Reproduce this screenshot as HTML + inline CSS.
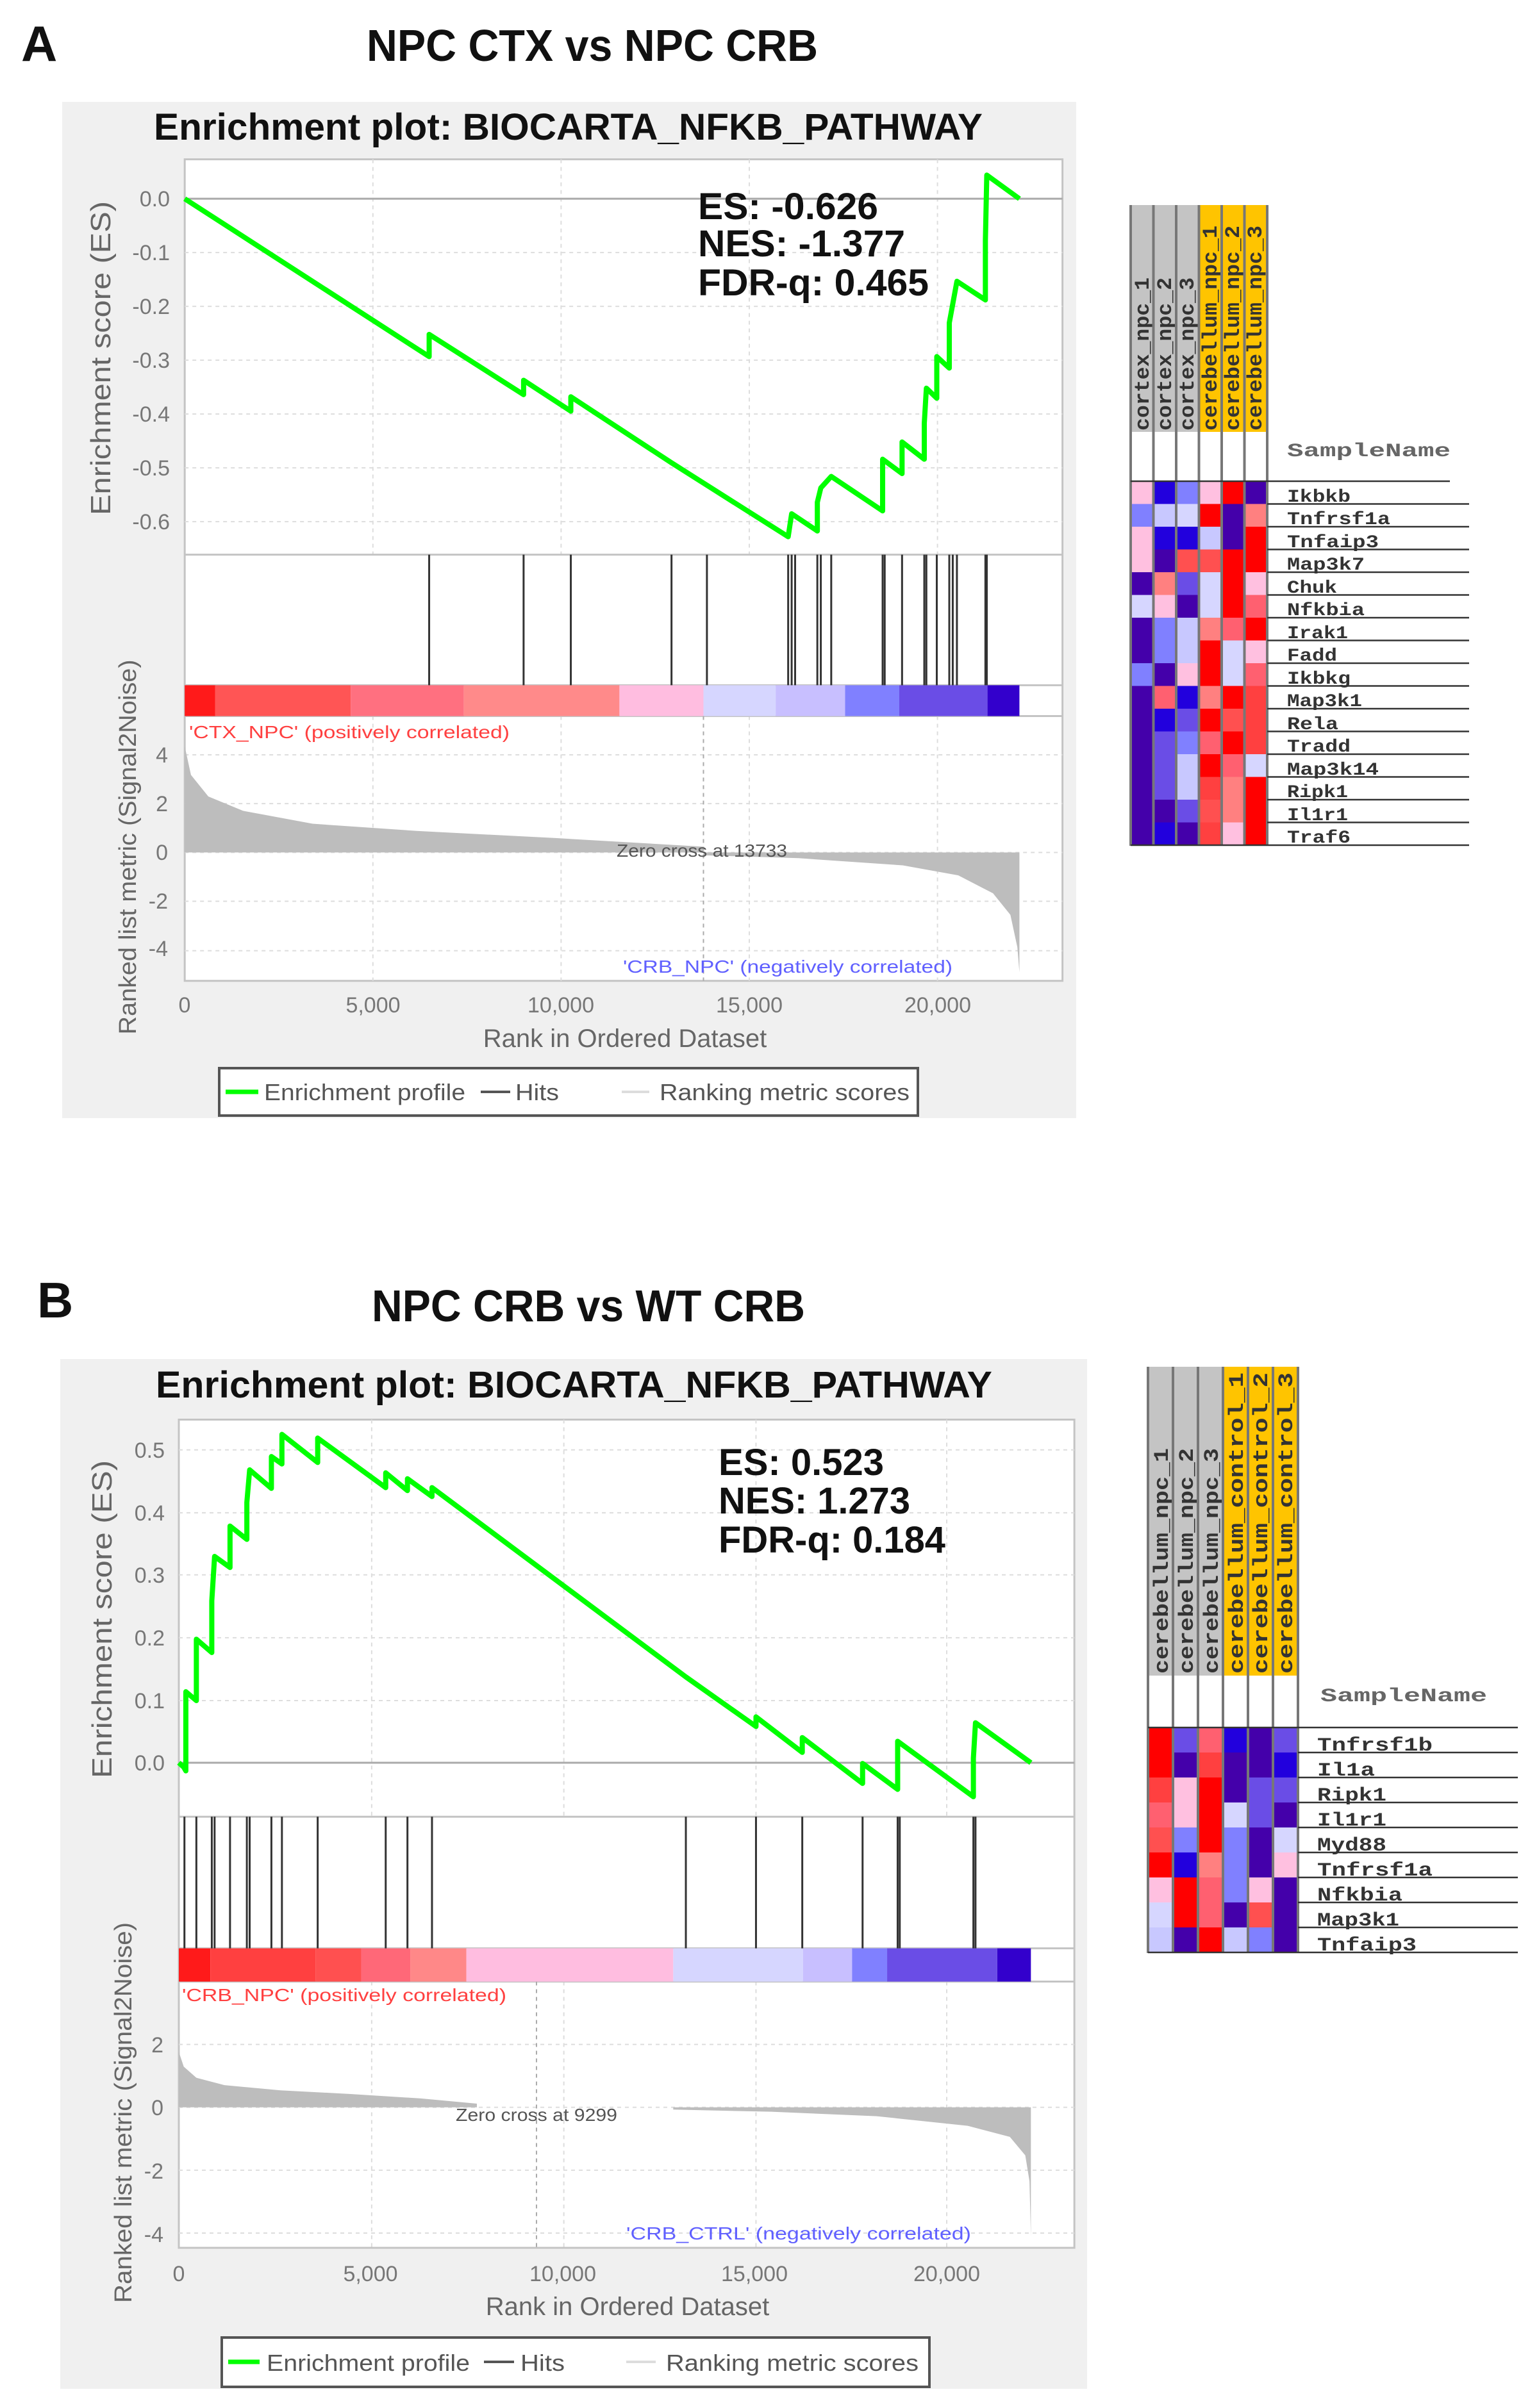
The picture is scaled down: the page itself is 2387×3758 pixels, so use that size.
<!DOCTYPE html>
<html><head><meta charset="utf-8"><style>html,body{margin:0;padding:0;background:#fff}svg{display:block}</style></head>
<body>
<svg width="2387" height="3758" viewBox="0 0 2387 3758" xmlns="http://www.w3.org/2000/svg" font-family="Liberation Sans, sans-serif">
<rect width="2387" height="3758" fill="#fff"/>
<!-- ================= PANEL A ================= -->
<text x="33" y="95" font-size="78" font-weight="bold" fill="#111">A</text>
<text x="572" y="95" font-size="70" font-weight="bold" fill="#111" textLength="704" lengthAdjust="spacingAndGlyphs">NPC CTX vs NPC CRB</text>
<rect x="97" y="159" width="1582" height="1586" fill="#f0f0f0"/>
<text x="240" y="218" font-size="58" font-weight="bold" fill="#111" textLength="1293" lengthAdjust="spacingAndGlyphs">Enrichment plot: BIOCARTA_NFKB_PATHWAY</text>
<g transform="scale(1.0834,1.1198)">
<rect x="266" y="222" width="1264" height="1145" fill="#fff" stroke="#c4c4c4" stroke-width="3" vector-effect="non-scaling-stroke"/>
<g stroke="#ddd" stroke-width="2" stroke-dasharray="6,6" vector-effect="non-scaling-stroke" fill="none">
<path d="M537 222V773M808 222V773M1079 222V773M1350 222V773M537 998V1367M808 998V1367M1079 998V1367M1350 998V1367" vector-effect="non-scaling-stroke"/>
<path d="M266 352H1530M266 427H1530M266 502H1530M266 577H1530M266 652H1530M266 727H1530M266 1052H1530M266 1120H1530M266 1188H1530M266 1256H1530M266 1325H1530" vector-effect="non-scaling-stroke"/>
</g>
<path d="M266 277H1530" stroke="#aaa" stroke-width="3" vector-effect="non-scaling-stroke"/>
<path d="M266 773H1530M266 955H1530M266 998H1530" stroke="#c4c4c4" stroke-width="3" vector-effect="non-scaling-stroke"/>
<rect x="266" y="955" width="44" height="43" fill="#ff1a1a"/>
<rect x="310" y="955" width="195" height="43" fill="#ff5555"/>
<rect x="505" y="955" width="163" height="43" fill="#ff7080"/>
<rect x="668" y="955" width="224" height="43" fill="#ff8a8a"/>
<rect x="892" y="955" width="121" height="43" fill="#ffbde0"/>
<rect x="1013" y="955" width="104" height="43" fill="#d6d6ff"/>
<rect x="1117" y="955" width="100" height="43" fill="#c8bfff"/>
<rect x="1217" y="955" width="78" height="43" fill="#8080ff"/>
<rect x="1295" y="955" width="127" height="43" fill="#6a4de6"/>
<rect x="1422" y="955" width="46" height="43" fill="#3300cc"/>
<path d="M618 773V955M754 773V955M822 773V955M967 773V955M1018 773V955M1135 773V955M1140 773V955M1145 773V955M1177 773V955M1182 773V955M1197 773V955M1271 773V955M1274 773V955M1299 773V955M1331 773V955M1334 773V955M1349 773V955M1367 773V955M1372 773V955M1378 773V955M1419 773V955M1421 773V955" stroke="#333" stroke-width="3" vector-effect="non-scaling-stroke"/>
<polygon points="266,1188 266,1040 275,1080 300,1110 350,1130 450,1148 600,1158 800,1168 1013,1180 1013,1188" fill="#bdbdbd"/>
<polygon points="1013,1188 1013,1192 1150,1196 1300,1206 1380,1220 1430,1245 1455,1275 1465,1320 1468,1355 1468,1188" fill="#bdbdbd"/>
<path d="M1013 998V1367" stroke="#aaa" stroke-width="2" stroke-dasharray="6,6" vector-effect="non-scaling-stroke"/>
<polyline points="266,277 618,497 618,466 754,550 754,530 822,573 822,553 967,645 1135,748 1140,716 1177,740 1177,700 1182,680 1197,664 1271,712 1271,640 1299,660 1299,616 1331,640 1331,590 1334,541 1349,555 1349,497 1367,513 1367,450 1378,392 1419,418 1419,335 1421,244 1468,277" fill="none" stroke="#00ff00" stroke-width="8" stroke-linejoin="round" vector-effect="non-scaling-stroke"/>
</g>
<g font-size="34" fill="#777" text-anchor="end">
<text x="265" y="322">0.0</text><text x="265" y="406">-0.1</text><text x="265" y="490">-0.2</text><text x="265" y="574">-0.3</text><text x="265" y="658">-0.4</text><text x="265" y="742">-0.5</text><text x="265" y="826">-0.6</text>
<text x="262" y="1190">4</text><text x="262" y="1266">2</text><text x="262" y="1342">0</text><text x="262" y="1418">-2</text><text x="262" y="1492">-4</text>
</g>
<g font-size="34" fill="#777" text-anchor="middle">
<text x="288" y="1580">0</text><text x="582" y="1580">5,000</text><text x="875" y="1580">10,000</text><text x="1169" y="1580">15,000</text><text x="1463" y="1580">20,000</text>
</g>
<text x="975" y="1634" font-size="40" fill="#666" text-anchor="middle">Rank in Ordered Dataset</text>
<text transform="translate(172,559) rotate(-90)" font-size="44" fill="#666" text-anchor="middle" textLength="490" lengthAdjust="spacingAndGlyphs">Enrichment score (ES)</text>
<text transform="translate(212,1322) rotate(-90)" font-size="38" fill="#666" text-anchor="middle" textLength="585" lengthAdjust="spacingAndGlyphs">Ranked list metric (Signal2Noise)</text>
<g font-size="58" font-weight="bold" fill="#111">
<text x="1089" y="342" textLength="281" lengthAdjust="spacingAndGlyphs">ES: -0.626</text>
<text x="1089" y="400" textLength="323" lengthAdjust="spacingAndGlyphs">NES: -1.377</text>
<text x="1089" y="461" textLength="360" lengthAdjust="spacingAndGlyphs">FDR-q: 0.465</text>
</g>
<text x="295" y="1152" font-size="28" fill="#ff4040" textLength="500" lengthAdjust="spacingAndGlyphs">'CTX_NPC' (positively correlated)</text>
<text x="972" y="1518" font-size="28" fill="#6060ff" textLength="514" lengthAdjust="spacingAndGlyphs">'CRB_NPC' (negatively correlated)</text>
<text x="962" y="1337" font-size="28" fill="#555" textLength="266" lengthAdjust="spacingAndGlyphs">Zero cross at 13733</text>
<rect x="342" y="1667" width="1090" height="74" fill="#fff" stroke="#555" stroke-width="4"/>
<path d="M352 1704H403" stroke="#00ff00" stroke-width="7"/>
<text x="412" y="1717" font-size="36" fill="#555" textLength="314" lengthAdjust="spacingAndGlyphs">Enrichment profile</text>
<path d="M750 1704H796" stroke="#555" stroke-width="4"/>
<text x="804" y="1717" font-size="36" fill="#555" textLength="68" lengthAdjust="spacingAndGlyphs">Hits</text>
<path d="M970 1704H1013" stroke="#ddd" stroke-width="4"/>
<text x="1029" y="1717" font-size="36" fill="#555" textLength="390" lengthAdjust="spacingAndGlyphs">Ranking metric scores</text>

<!-- Heatmap A -->
<g>
<rect x="1764" y="320" width="107" height="354" fill="#c4c4c4"/>
<rect x="1870" y="320" width="107" height="354" fill="#ffc400"/>
<rect x="1764" y="674" width="213" height="77" fill="#fff"/>
<g font-family="Liberation Mono, monospace" font-size="32" font-weight="bold" fill="#333">
<text transform="translate(1792,672) rotate(-90)" textLength="239" lengthAdjust="spacingAndGlyphs">cortex_npc_1</text>
<text transform="translate(1827,672) rotate(-90)" textLength="239" lengthAdjust="spacingAndGlyphs">cortex_npc_2</text>
<text transform="translate(1862,672) rotate(-90)" textLength="239" lengthAdjust="spacingAndGlyphs">cortex_npc_3</text>
<text transform="translate(1898,672) rotate(-90)" textLength="320" lengthAdjust="spacingAndGlyphs">cerebellum_npc_1</text>
<text transform="translate(1933,672) rotate(-90)" textLength="320" lengthAdjust="spacingAndGlyphs">cerebellum_npc_2</text>
<text transform="translate(1968,672) rotate(-90)" textLength="320" lengthAdjust="spacingAndGlyphs">cerebellum_npc_3</text>
</g>
<g transform="translate(1764,751)">
<g><rect x="0" width="35.5" height="35.5" fill="#ffc0e0"/><rect x="35.5" width="35.5" height="35.5" fill="#2200dd"/><rect x="71" width="35.5" height="35.5" fill="#8080ff"/><rect x="106.5" width="35.5" height="35.5" fill="#ffc0e0"/><rect x="142" width="35.5" height="35.5" fill="#ff0000"/><rect x="177.5" width="35.5" height="35.5" fill="#4400aa"/></g>
<g transform="translate(0,35.5)"><rect x="0" width="35.5" height="35.5" fill="#8080ff"/><rect x="35.5" width="35.5" height="35.5" fill="#c8c8ff"/><rect x="71" width="35.5" height="35.5" fill="#d6d6ff"/><rect x="106.5" width="35.5" height="35.5" fill="#ff0000"/><rect x="142" width="35.5" height="35.5" fill="#4400aa"/><rect x="177.5" width="35.5" height="35.5" fill="#ff8080"/></g>
<g transform="translate(0,71)"><rect x="0" width="35.5" height="35.5" fill="#ffc0e0"/><rect x="35.5" width="35.5" height="35.5" fill="#2200dd"/><rect x="71" width="35.5" height="35.5" fill="#2200dd"/><rect x="106.5" width="35.5" height="35.5" fill="#c8c8ff"/><rect x="142" width="35.5" height="35.5" fill="#4400aa"/><rect x="177.5" width="35.5" height="35.5" fill="#ff0000"/></g>
<g transform="translate(0,106.5)"><rect x="0" width="35.5" height="35.5" fill="#ffc0e0"/><rect x="35.5" width="35.5" height="35.5" fill="#4400aa"/><rect x="71" width="35.5" height="35.5" fill="#ff5050"/><rect x="106.5" width="35.5" height="35.5" fill="#ff5050"/><rect x="142" width="35.5" height="35.5" fill="#ff0000"/><rect x="177.5" width="35.5" height="35.5" fill="#ff0000"/></g>
<g transform="translate(0,142)"><rect x="0" width="35.5" height="35.5" fill="#4400aa"/><rect x="35.5" width="35.5" height="35.5" fill="#ff8080"/><rect x="71" width="35.5" height="35.5" fill="#6a4de6"/><rect x="106.5" width="35.5" height="35.5" fill="#d6d6ff"/><rect x="142" width="35.5" height="35.5" fill="#ff0000"/><rect x="177.5" width="35.5" height="35.5" fill="#ffc0e0"/></g>
<g transform="translate(0,177.5)"><rect x="0" width="35.5" height="35.5" fill="#d6d6ff"/><rect x="35.5" width="35.5" height="35.5" fill="#ffc0e0"/><rect x="71" width="35.5" height="35.5" fill="#4400aa"/><rect x="106.5" width="35.5" height="35.5" fill="#d6d6ff"/><rect x="142" width="35.5" height="35.5" fill="#ff0000"/><rect x="177.5" width="35.5" height="35.5" fill="#ff6070"/></g>
<g transform="translate(0,213)"><rect x="0" width="35.5" height="35.5" fill="#4400aa"/><rect x="35.5" width="35.5" height="35.5" fill="#8080ff"/><rect x="71" width="35.5" height="35.5" fill="#c8c8ff"/><rect x="106.5" width="35.5" height="35.5" fill="#ff8080"/><rect x="142" width="35.5" height="35.5" fill="#ff6070"/><rect x="177.5" width="35.5" height="35.5" fill="#ff0000"/></g>
<g transform="translate(0,248.5)"><rect x="0" width="35.5" height="35.5" fill="#4400aa"/><rect x="35.5" width="35.5" height="35.5" fill="#8080ff"/><rect x="71" width="35.5" height="35.5" fill="#c8c8ff"/><rect x="106.5" width="35.5" height="35.5" fill="#ff0000"/><rect x="142" width="35.5" height="35.5" fill="#d6d6ff"/><rect x="177.5" width="35.5" height="35.5" fill="#ffc0e0"/></g>
<g transform="translate(0,284)"><rect x="0" width="35.5" height="35.5" fill="#8080ff"/><rect x="35.5" width="35.5" height="35.5" fill="#4400aa"/><rect x="71" width="35.5" height="35.5" fill="#ffc0e0"/><rect x="106.5" width="35.5" height="35.5" fill="#ff0000"/><rect x="142" width="35.5" height="35.5" fill="#d6d6ff"/><rect x="177.5" width="35.5" height="35.5" fill="#ff6070"/></g>
<g transform="translate(0,319.5)"><rect x="0" width="35.5" height="35.5" fill="#4400aa"/><rect x="35.5" width="35.5" height="35.5" fill="#ff6070"/><rect x="71" width="35.5" height="35.5" fill="#2200dd"/><rect x="106.5" width="35.5" height="35.5" fill="#ff8080"/><rect x="142" width="35.5" height="35.5" fill="#ff0000"/><rect x="177.5" width="35.5" height="35.5" fill="#ff4040"/></g>
<g transform="translate(0,355)"><rect x="0" width="35.5" height="35.5" fill="#4400aa"/><rect x="35.5" width="35.5" height="35.5" fill="#2200dd"/><rect x="71" width="35.5" height="35.5" fill="#6a4de6"/><rect x="106.5" width="35.5" height="35.5" fill="#ff0000"/><rect x="142" width="35.5" height="35.5" fill="#ff5050"/><rect x="177.5" width="35.5" height="35.5" fill="#ff4040"/></g>
<g transform="translate(0,390.5)"><rect x="0" width="35.5" height="35.5" fill="#4400aa"/><rect x="35.5" width="35.5" height="35.5" fill="#6a4de6"/><rect x="71" width="35.5" height="35.5" fill="#8080ff"/><rect x="106.5" width="35.5" height="35.5" fill="#ff6070"/><rect x="142" width="35.5" height="35.5" fill="#ff0000"/><rect x="177.5" width="35.5" height="35.5" fill="#ff4040"/></g>
<g transform="translate(0,426)"><rect x="0" width="35.5" height="35.5" fill="#4400aa"/><rect x="35.5" width="35.5" height="35.5" fill="#6a4de6"/><rect x="71" width="35.5" height="35.5" fill="#c8c8ff"/><rect x="106.5" width="35.5" height="35.5" fill="#ff0000"/><rect x="142" width="35.5" height="35.5" fill="#ff6070"/><rect x="177.5" width="35.5" height="35.5" fill="#d6d6ff"/></g>
<g transform="translate(0,461.5)"><rect x="0" width="35.5" height="35.5" fill="#4400aa"/><rect x="35.5" width="35.5" height="35.5" fill="#6a4de6"/><rect x="71" width="35.5" height="35.5" fill="#c8c8ff"/><rect x="106.5" width="35.5" height="35.5" fill="#ff4040"/><rect x="142" width="35.5" height="35.5" fill="#ff8080"/><rect x="177.5" width="35.5" height="35.5" fill="#ff0000"/></g>
<g transform="translate(0,497)"><rect x="0" width="35.5" height="35.5" fill="#4400aa"/><rect x="35.5" width="35.5" height="35.5" fill="#4400aa"/><rect x="71" width="35.5" height="35.5" fill="#6a4de6"/><rect x="106.5" width="35.5" height="35.5" fill="#ff5050"/><rect x="142" width="35.5" height="35.5" fill="#ff8080"/><rect x="177.5" width="35.5" height="35.5" fill="#ff0000"/></g>
<g transform="translate(0,532.5)"><rect x="0" width="35.5" height="35.5" fill="#4400aa"/><rect x="35.5" width="35.5" height="35.5" fill="#2200dd"/><rect x="71" width="35.5" height="35.5" fill="#4400aa"/><rect x="106.5" width="35.5" height="35.5" fill="#ff4040"/><rect x="142" width="35.5" height="35.5" fill="#ffc0e0"/><rect x="177.5" width="35.5" height="35.5" fill="#ff0000"/></g>
</g>
<path d="M1764 320V1320M1799.5 320V1320M1835 320V1320M1870.5 320V1320M1906 320V1320M1941.5 320V1320M1977 320V1320" stroke="#777" stroke-width="4"/>
<path d="M1764 751H2262M1977 786.5H2292M1977 822H2292M1977 857.5H2292M1977 893H2292M1977 928.5H2292M1977 964H2292M1977 999.5H2292M1977 1035H2292M1977 1070.5H2292M1977 1106H2292M1977 1141.5H2292M1977 1177H2292M1977 1212.5H2292M1977 1248H2292M1977 1283.5H2292M1764 1319H2292" stroke="#333" stroke-width="2.5"/>
<text x="2008" y="712" font-family="Liberation Mono, monospace" font-size="30" font-weight="bold" fill="#666" textLength="255" lengthAdjust="spacingAndGlyphs">SampleName</text>
<g font-family="Liberation Mono, monospace" font-size="28" font-weight="bold" fill="#333">
<text x="2008" y="783" textLength="99" lengthAdjust="spacingAndGlyphs">Ikbkb</text>
<text x="2008" y="818" textLength="161" lengthAdjust="spacingAndGlyphs">Tnfrsf1a</text>
<text x="2008" y="854" textLength="143" lengthAdjust="spacingAndGlyphs">Tnfaip3</text>
<text x="2008" y="889" textLength="121" lengthAdjust="spacingAndGlyphs">Map3k7</text>
<text x="2008" y="925" textLength="78" lengthAdjust="spacingAndGlyphs">Chuk</text>
<text x="2008" y="960" textLength="121" lengthAdjust="spacingAndGlyphs">Nfkbia</text>
<text x="2008" y="996" textLength="95" lengthAdjust="spacingAndGlyphs">Irak1</text>
<text x="2008" y="1031" textLength="78" lengthAdjust="spacingAndGlyphs">Fadd</text>
<text x="2008" y="1067" textLength="99" lengthAdjust="spacingAndGlyphs">Ikbkg</text>
<text x="2008" y="1102" textLength="117" lengthAdjust="spacingAndGlyphs">Map3k1</text>
<text x="2008" y="1138" textLength="80" lengthAdjust="spacingAndGlyphs">Rela</text>
<text x="2008" y="1173" textLength="99" lengthAdjust="spacingAndGlyphs">Tradd</text>
<text x="2008" y="1209" textLength="143" lengthAdjust="spacingAndGlyphs">Map3k14</text>
<text x="2008" y="1244" textLength="95" lengthAdjust="spacingAndGlyphs">Ripk1</text>
<text x="2008" y="1280" textLength="95" lengthAdjust="spacingAndGlyphs">Il1r1</text>
<text x="2008" y="1315" textLength="99" lengthAdjust="spacingAndGlyphs">Traf6</text>
</g>
</g>

<!-- ================= PANEL B ================= -->
<text x="58" y="2056" font-size="78" font-weight="bold" fill="#111">B</text>
<text x="580" y="2062" font-size="70" font-weight="bold" fill="#111" textLength="676" lengthAdjust="spacingAndGlyphs">NPC CRB vs WT CRB</text>
<rect x="94" y="2121" width="1602" height="1607" fill="#f0f0f0"/>
<text x="243" y="2181" font-size="58" font-weight="bold" fill="#111" textLength="1305" lengthAdjust="spacingAndGlyphs">Enrichment plot: BIOCARTA_NFKB_PATHWAY</text>
<g transform="translate(0,1950) scale(1.0941,1.1541)">
<rect x="255" y="230" width="1277" height="1120" fill="#fff" stroke="#c4c4c4" stroke-width="3" vector-effect="non-scaling-stroke"/>
<g stroke="#ddd" stroke-width="2" stroke-dasharray="6,6" fill="none">
<path d="M530 230V767M804 230V767M1078 230V767M1350 230V767M530 990V1350M804 990V1350M1078 990V1350M1350 990V1350" vector-effect="non-scaling-stroke"/>
<path d="M255 271H1532M255 356H1532M255 440H1532M255 525H1532M255 610H1532M255 1075H1532M255 1160H1532M255 1245H1532M255 1330H1532" vector-effect="non-scaling-stroke"/>
</g>
<path d="M255 694H1532" stroke="#aaa" stroke-width="3" vector-effect="non-scaling-stroke"/>
<path d="M255 767H1532M255 945H1532M255 990H1532" stroke="#c4c4c4" stroke-width="3" vector-effect="non-scaling-stroke"/>
<rect x="255" y="945" width="45" height="45" fill="#ff1a1a"/>
<rect x="300" y="945" width="150" height="45" fill="#ff4040"/>
<rect x="450" y="945" width="65" height="45" fill="#ff5050"/>
<rect x="515" y="945" width="70" height="45" fill="#ff6878"/>
<rect x="585" y="945" width="80" height="45" fill="#ff8888"/>
<rect x="665" y="945" width="295" height="45" fill="#ffbde0"/>
<rect x="960" y="945" width="185" height="45" fill="#d6d6ff"/>
<rect x="1145" y="945" width="70" height="45" fill="#c8bfff"/>
<rect x="1215" y="945" width="50" height="45" fill="#8080ff"/>
<rect x="1265" y="945" width="157" height="45" fill="#6a4de6"/>
<rect x="1422" y="945" width="48" height="45" fill="#3300cc"/>
<path d="M263 767V945M280 767V945M302 767V945M306 767V945M328 767V945M352 767V945M356 767V945M387 767V945M402 767V945M453 767V945M550 767V945M581 767V945M616 767V945M978 767V945M1078 767V945M1144 767V945M1230 767V945M1280 767V945M1283 767V945M1388 767V945M1391 767V945" stroke="#333" stroke-width="3" vector-effect="non-scaling-stroke"/>
<polygon points="255,1160 255,1085 262,1105 280,1120 320,1130 400,1137 500,1142 600,1148 680,1155 680,1160" fill="#bdbdbd"/>
<polygon points="960,1160 960,1163 1100,1166 1250,1172 1380,1185 1440,1200 1462,1225 1468,1260 1470,1335 1470,1160" fill="#bdbdbd"/>
<path d="M765 990V1350" stroke="#aaa" stroke-width="2" stroke-dasharray="6,6" vector-effect="non-scaling-stroke"/>
<polyline points="255,694 262,700 265,705 265,598 280,610 280,527 302,545 302,475 306,415 328,430 328,374 352,392 352,342 356,298 387,323 387,280 402,290 402,250 453,288 453,255 550,322 550,302 581,326 581,310 616,334 616,322 978,578 1078,645 1078,632 1144,680 1144,660 1230,722 1230,695 1280,730 1280,665 1388,740 1388,688 1391,640 1470,694" fill="none" stroke="#00ff00" stroke-width="8" stroke-linejoin="round" vector-effect="non-scaling-stroke"/>
</g>
<g font-size="34" fill="#777" text-anchor="end">
<text x="257" y="2275">0.5</text><text x="257" y="2373">0.4</text><text x="257" y="2470">0.3</text><text x="257" y="2568">0.2</text><text x="257" y="2666">0.1</text><text x="257" y="2763">0.0</text>
<text x="255" y="3203">2</text><text x="255" y="3301">0</text><text x="255" y="3400">-2</text><text x="255" y="3499">-4</text>
</g>
<g font-size="34" fill="#777" text-anchor="middle">
<text x="279" y="3560">0</text><text x="578" y="3560">5,000</text><text x="878" y="3560">10,000</text><text x="1177" y="3560">15,000</text><text x="1477" y="3560">20,000</text>
</g>
<text x="979" y="3613" font-size="40" fill="#666" text-anchor="middle">Rank in Ordered Dataset</text>
<text transform="translate(174,2527) rotate(-90)" font-size="44" fill="#666" text-anchor="middle" textLength="496" lengthAdjust="spacingAndGlyphs">Enrichment score (ES)</text>
<text transform="translate(205,3297) rotate(-90)" font-size="38" fill="#666" text-anchor="middle" textLength="594" lengthAdjust="spacingAndGlyphs">Ranked list metric (Signal2Noise)</text>
<g font-size="58" font-weight="bold" fill="#111">
<text x="1121" y="2302" textLength="258" lengthAdjust="spacingAndGlyphs">ES: 0.523</text>
<text x="1121" y="2362" textLength="299" lengthAdjust="spacingAndGlyphs">NES: 1.273</text>
<text x="1121" y="2423" textLength="354" lengthAdjust="spacingAndGlyphs">FDR-q: 0.184</text>
</g>
<text x="284" y="3123" font-size="28" fill="#ff4040" textLength="506" lengthAdjust="spacingAndGlyphs">'CRB_NPC' (positively correlated)</text>
<text x="977" y="3495" font-size="28" fill="#6060ff" textLength="538" lengthAdjust="spacingAndGlyphs">'CRB_CTRL' (negatively correlated)</text>
<text x="711" y="3310" font-size="28" fill="#555" textLength="252" lengthAdjust="spacingAndGlyphs">Zero cross at 9299</text>
<rect x="346" y="3648" width="1104" height="77" fill="#fff" stroke="#555" stroke-width="4"/>
<path d="M356 3686H405" stroke="#00ff00" stroke-width="7"/>
<text x="416" y="3700" font-size="36" fill="#555" textLength="317" lengthAdjust="spacingAndGlyphs">Enrichment profile</text>
<path d="M755 3686H802" stroke="#555" stroke-width="4"/>
<text x="812" y="3700" font-size="36" fill="#555" textLength="69" lengthAdjust="spacingAndGlyphs">Hits</text>
<path d="M977 3686H1023" stroke="#ddd" stroke-width="4"/>
<text x="1039" y="3700" font-size="36" fill="#555" textLength="394" lengthAdjust="spacingAndGlyphs">Ranking metric scores</text>

<!-- Heatmap B -->
<g>
<rect x="1791" y="2133" width="117" height="482" fill="#c4c4c4"/>
<rect x="1908" y="2133" width="116" height="482" fill="#ffc400"/>
<rect x="1791" y="2615" width="233" height="81" fill="#fff"/>
<g font-family="Liberation Mono, monospace" font-size="32" font-weight="bold" fill="#333">
<text transform="translate(1822,2612) rotate(-90)" textLength="352" lengthAdjust="spacingAndGlyphs">cerebellum_npc_1</text>
<text transform="translate(1861,2612) rotate(-90)" textLength="352" lengthAdjust="spacingAndGlyphs">cerebellum_npc_2</text>
<text transform="translate(1900,2612) rotate(-90)" textLength="352" lengthAdjust="spacingAndGlyphs">cerebellum_npc_3</text>
<text transform="translate(1939,2612) rotate(-90)" textLength="470" lengthAdjust="spacingAndGlyphs">cerebellum_control_1</text>
<text transform="translate(1977,2612) rotate(-90)" textLength="470" lengthAdjust="spacingAndGlyphs">cerebellum_control_2</text>
<text transform="translate(2016,2612) rotate(-90)" textLength="470" lengthAdjust="spacingAndGlyphs">cerebellum_control_3</text>
</g>
<g transform="translate(1791,2696)">
<g><rect x="0" width="39" height="39" fill="#ff0000"/><rect x="39" width="39" height="39" fill="#6a4de6"/><rect x="78" width="39" height="39" fill="#ff6070"/><rect x="117" width="39" height="39" fill="#2200dd"/><rect x="156" width="39" height="39" fill="#4400aa"/><rect x="195" width="39" height="39" fill="#6a4de6"/></g>
<g transform="translate(0,39)"><rect x="0" width="39" height="39" fill="#ff0000"/><rect x="39" width="39" height="39" fill="#4400aa"/><rect x="78" width="39" height="39" fill="#ff4040"/><rect x="117" width="39" height="39" fill="#4400aa"/><rect x="156" width="39" height="39" fill="#4400aa"/><rect x="195" width="39" height="39" fill="#2200dd"/></g>
<g transform="translate(0,78)"><rect x="0" width="39" height="39" fill="#ff4040"/><rect x="39" width="39" height="39" fill="#ffc0e0"/><rect x="78" width="39" height="39" fill="#ff0000"/><rect x="117" width="39" height="39" fill="#4400aa"/><rect x="156" width="39" height="39" fill="#6a4de6"/><rect x="195" width="39" height="39" fill="#6a4de6"/></g>
<g transform="translate(0,117)"><rect x="0" width="39" height="39" fill="#ff6070"/><rect x="39" width="39" height="39" fill="#ffc0e0"/><rect x="78" width="39" height="39" fill="#ff0000"/><rect x="117" width="39" height="39" fill="#d6d6ff"/><rect x="156" width="39" height="39" fill="#6a4de6"/><rect x="195" width="39" height="39" fill="#4400aa"/></g>
<g transform="translate(0,156)"><rect x="0" width="39" height="39" fill="#ff5050"/><rect x="39" width="39" height="39" fill="#8080ff"/><rect x="78" width="39" height="39" fill="#ff0000"/><rect x="117" width="39" height="39" fill="#8080ff"/><rect x="156" width="39" height="39" fill="#4400aa"/><rect x="195" width="39" height="39" fill="#d6d6ff"/></g>
<g transform="translate(0,195)"><rect x="0" width="39" height="39" fill="#ff0000"/><rect x="39" width="39" height="39" fill="#2200dd"/><rect x="78" width="39" height="39" fill="#ff8080"/><rect x="117" width="39" height="39" fill="#8080ff"/><rect x="156" width="39" height="39" fill="#4400aa"/><rect x="195" width="39" height="39" fill="#ffc0e0"/></g>
<g transform="translate(0,234)"><rect x="0" width="39" height="39" fill="#ffc0e0"/><rect x="39" width="39" height="39" fill="#ff0000"/><rect x="78" width="39" height="39" fill="#ff6070"/><rect x="117" width="39" height="39" fill="#8080ff"/><rect x="156" width="39" height="39" fill="#ffc0e0"/><rect x="195" width="39" height="39" fill="#4400aa"/></g>
<g transform="translate(0,273)"><rect x="0" width="39" height="39" fill="#d6d6ff"/><rect x="39" width="39" height="39" fill="#ff0000"/><rect x="78" width="39" height="39" fill="#ff6070"/><rect x="117" width="39" height="39" fill="#4400aa"/><rect x="156" width="39" height="39" fill="#ff5050"/><rect x="195" width="39" height="39" fill="#4400aa"/></g>
<g transform="translate(0,312)"><rect x="0" width="39" height="39" fill="#c8c8ff"/><rect x="39" width="39" height="39" fill="#4400aa"/><rect x="78" width="39" height="39" fill="#ff0000"/><rect x="117" width="39" height="39" fill="#c8c8ff"/><rect x="156" width="39" height="39" fill="#8080ff"/><rect x="195" width="39" height="39" fill="#4400aa"/></g>
</g>
<path d="M1791 2133V3048M1830 2133V3048M1869 2133V3048M1908 2133V3048M1947 2133V3048M1986 2133V3048M2025 2133V3048" stroke="#777" stroke-width="4"/>
<path d="M1791 2696H2368M2025 2735H2368M2025 2774H2368M2025 2813H2368M2025 2852H2368M2025 2891H2368M2025 2930H2368M2025 2969H2368M2025 3008H2368M1791 3047H2368" stroke="#333" stroke-width="2.5"/>
<text x="2060" y="2655" font-family="Liberation Mono, monospace" font-size="30" font-weight="bold" fill="#666" textLength="260" lengthAdjust="spacingAndGlyphs">SampleName</text>
<g font-family="Liberation Mono, monospace" font-size="30" font-weight="bold" fill="#333">
<text x="2055" y="2732" textLength="180" lengthAdjust="spacingAndGlyphs">Tnfrsf1b</text>
<text x="2055" y="2771" textLength="90" lengthAdjust="spacingAndGlyphs">Il1a</text>
<text x="2055" y="2810" textLength="108" lengthAdjust="spacingAndGlyphs">Ripk1</text>
<text x="2055" y="2849" textLength="108" lengthAdjust="spacingAndGlyphs">Il1r1</text>
<text x="2055" y="2888" textLength="108" lengthAdjust="spacingAndGlyphs">Myd88</text>
<text x="2055" y="2927" textLength="180" lengthAdjust="spacingAndGlyphs">Tnfrsf1a</text>
<text x="2055" y="2966" textLength="133" lengthAdjust="spacingAndGlyphs">Nfkbia</text>
<text x="2055" y="3005" textLength="128" lengthAdjust="spacingAndGlyphs">Map3k1</text>
<text x="2055" y="3044" textLength="155" lengthAdjust="spacingAndGlyphs">Tnfaip3</text>
</g>
</g>
</svg>
</body></html>
